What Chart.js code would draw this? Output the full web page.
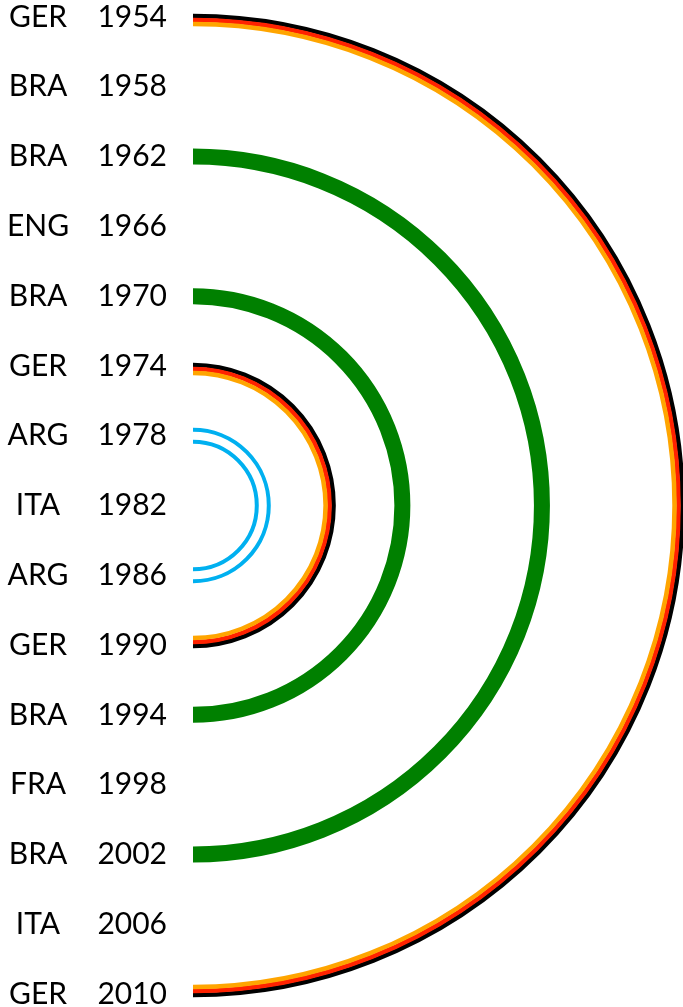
<!DOCTYPE html>
<html>
<head>
<meta charset="utf-8">
<script src="https://cdn.jsdelivr.net/npm/chart.js@4"></script>
<style>
  html, body { margin: 0; padding: 0; background: #fff; }
  #wrap { width: 683px; height: 1007px; }
</style>
</head>
<body>
<div id="wrap"><canvas id="arcChart"></canvas></div>
<script>
// world cup winners, one row per tournament
const countries = ['GER', 'BRA', 'BRA', 'ENG', 'BRA', 'GER', 'ARG', 'ITA', 'ARG', 'GER', 'BRA', 'FRA', 'BRA', 'ITA', 'GER']
const years = ['1954', '1958', '1962', '1966', '1970', '1974', '1978', '1982', '1986', '1990', '1994', '1998', '2002', '2006', '2010']
// arcs between tournaments (row indexes)
const arcFrom = [0, 2, 4, 5, 6]
const arcTo = [14, 12, 10, 9, 8]
const arcStyle = ['ger', 'bra', 'bra', 'ger', 'arg']

const arcColors = {
  ger: ['#000000', '#ff2200', '#ffa500'],
  bra: ['#008000'],
  arg: ['#00b0f0']
}

const arcPlugin = {
  id: 'arcs',
  afterDraw(chart) {
    const ctx = chart.ctx
    const x = chart.scales.x
    const y = chart.scales.y
    const cx = x.getPixelForValue(193)

    // labels
    ctx.save()
    ctx.fillStyle = '#000'
    ctx.font = '30px "Lato", "Open Sans", sans-serif'
    ctx.textBaseline = 'middle'
    countries.forEach((c, i) => {
      const py = y.getPixelForValue(i)
      ctx.textAlign = 'center'
      ctx.fillText(c, x.getPixelForValue(38), py)
      ctx.textAlign = 'right'
      ctx.fillText(years[i], x.getPixelForValue(167), py)
    })

    // arcs
    arcFrom.forEach((from, i) => {
      const top = y.getPixelForValue(from)
      const bottom = y.getPixelForValue(arcTo[i])
      const cy = (top + bottom) / 2
      const r = (bottom - top) / 2
      const style = arcStyle[i]
      if (style === 'ger') {
        arcColors.ger.forEach((col, k) => {
          ctx.beginPath()
          ctx.strokeStyle = col
          ctx.lineWidth = 4.5
          ctx.arc(cx, cy, r + 1 - k * 4, -Math.PI / 2, Math.PI / 2)
          ctx.stroke()
        })
      } else if (style === 'bra') {
        ctx.beginPath()
        ctx.strokeStyle = arcColors.bra[0]
        ctx.lineWidth = 16
        ctx.arc(cx, cy, r, -Math.PI / 2, Math.PI / 2)
        ctx.stroke()
      } else {
        [6, -6].forEach((d) => {
          ctx.beginPath()
          ctx.strokeStyle = arcColors.arg[0]
          ctx.lineWidth = 4
          ctx.arc(cx, cy, r + d, -Math.PI / 2, Math.PI / 2)
          ctx.stroke()
        })
      }
    })
    ctx.restore()
  }
}

const ctx = document.getElementById('arcChart').getContext('2d')
const myChart = new Chart(ctx, {
  type: 'scatter',
  data: { datasets: [{ data: [] }] },
  options: {
    responsive: true,
    maintainAspectRatio: false,
    animation: false,
    layout: { padding: 0 },
    scales: {
      x: { type: 'linear', min: 0, max: 683, display: false },
      y: { type: 'linear', min: -0.2436, max: 14.186, reverse: true, display: false }
    },
    plugins: {
      legend: { display: false },
      tooltip: { enabled: false }
    }
  },
  plugins: [arcPlugin]
})
</script>
</body>
</html>
